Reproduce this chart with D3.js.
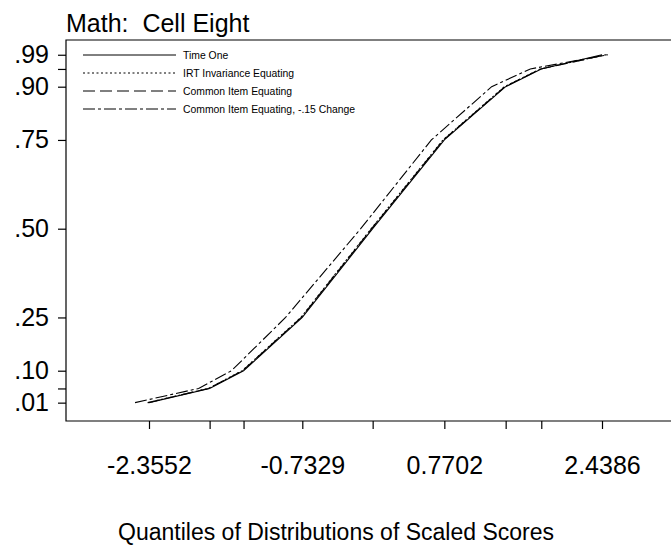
<!DOCTYPE html>
<html>
<head>
<meta charset="utf-8">
<script src="https://cdn.jsdelivr.net/npm/d3@7/dist/d3.min.js"></script>
<style>
  html, body { margin: 0; padding: 0; background: #fff; }
  svg { display: block; }
  text { font-family: "Liberation Sans", Arial, Helvetica, sans-serif; fill: #000; }
</style>
</head>
<body>
<svg id="chart" width="671" height="546"></svg>
<script>
// Cumulative proportions at which the quantiles are taken
const probs = [0.01, 0.05, 0.10, 0.25, 0.50, 0.75, 0.90, 0.95, 0.99];

// Quantiles of scaled scores for each distribution
const timeOne         = [-2.3552, -1.7137, -1.3547, -0.7329, 0.0116, 0.7702, 1.4191, 1.7960, 2.4386];
const irtEquating     = [-2.3700, -1.7280, -1.3690, -0.7480, -0.0040, 0.7560, 1.4060, 1.7860, 2.4800];
const commonItem      = [-2.3650, -1.7240, -1.3650, -0.7440, 0.0000, 0.7600, 1.4100, 1.7900, 2.4900];
const commonItemShift = [-2.5030, -1.8300, -1.4820, -0.9100, -0.1150, 0.6330, 1.2710, 1.6800, 2.5000];

// Axis labels
const yTickLabels = [".01", "", ".10", ".25", ".50", ".75", ".90", "", ".99"];
const xLabelValues = [-2.3552, -0.7329, 0.7702, 2.4386];

const seriesNames = ["Time One", "IRT Invariance Equating", "Common Item Equating", "Common Item Equating, -.15 Change"];

const series = [
  { name: seriesNames[0], values: timeOne,         dash: null },
  { name: seriesNames[1], values: irtEquating,     dash: "2,2.5" },
  { name: seriesNames[2], values: commonItem,      dash: "12,5" },
  { name: seriesNames[3], values: commonItemShift, dash: "12,3,3,3" }
];

const svg = d3.select("#chart");
const frame = { left: 66, top: 40, bottom: 421, right: 671 };

const x = d3.scaleLinear().domain([-2.3552, 2.4386]).range([149, 602]);
const y = d3.scaleLinear().domain([0, 1]).range([406.2, 51.2]);

// Title
svg.append("text")
  .attr("x", 66).attr("y", 32)
  .style("font-size", "25px")
  .style("white-space", "pre")
  .text("Math:  Cell Eight");

// Plot frame (left, top, bottom edges)
svg.append("path")
  .attr("d", `M${frame.right},${frame.top}H${frame.left}V${frame.bottom}H${frame.right}`)
  .attr("fill", "none").attr("stroke", "#000").attr("stroke-width", 1.2);

// Y axis
const yAxis = d3.axisLeft(y)
  .tickValues(probs)
  .tickSize(8)
  .tickPadding(9)
  .tickFormat((d, i) => yTickLabels[i]);
const gy = svg.append("g").attr("transform", `translate(${frame.left},0)`).call(yAxis);
gy.select(".domain").remove();
gy.selectAll("text").style("font-size", "25px").attr("font-family", null);

// X axis: ticks at the Time One quantiles, labelled at selected ones
const fmt = d3.format(".4f");
const xAxis = d3.axisBottom(x)
  .tickValues(timeOne)
  .tickSize(8)
  .tickPadding(27)
  .tickFormat(d => xLabelValues.includes(d) ? fmt(d).replace("\u2212", "-") : "");
const gx = svg.append("g").attr("transform", `translate(0,${frame.bottom})`).call(xAxis);
gx.select(".domain").remove();
gx.selectAll("text").style("font-size", "25px").attr("font-family", null);
svg.selectAll(".tick line").attr("stroke-width", 1.2);

// X axis title
svg.append("text")
  .attr("x", 336).attr("y", 540)
  .attr("text-anchor", "middle")
  .style("font-size", "23px")
  .text("Quantiles of Distributions of Scaled Scores");

// Curves
const line = d3.line()
  .x(d => x(d[0]))
  .y(d => y(d[1]));

series.forEach(s => {
  svg.append("path")
    .datum(s.values.map((v, i) => [v, probs[i]]))
    .attr("d", line)
    .attr("fill", "none")
    .attr("stroke", "#000")
    .attr("stroke-width", 1.1)
    .attr("stroke-dasharray", s.dash);
});

// Legend
const legend = svg.append("g");
series.forEach((s, i) => {
  const ly = 55 + i * 18;
  legend.append("line")
    .attr("x1", 83).attr("x2", 176)
    .attr("y1", ly).attr("y2", ly)
    .attr("stroke", "#000").attr("stroke-width", 1)
    .attr("stroke-dasharray", s.dash);
  legend.append("text")
    .attr("x", 183).attr("y", ly)
    .attr("dy", "0.35em")
    .style("font-size", "10.4px")
    .text(s.name);
});
</script>
</body>
</html>
